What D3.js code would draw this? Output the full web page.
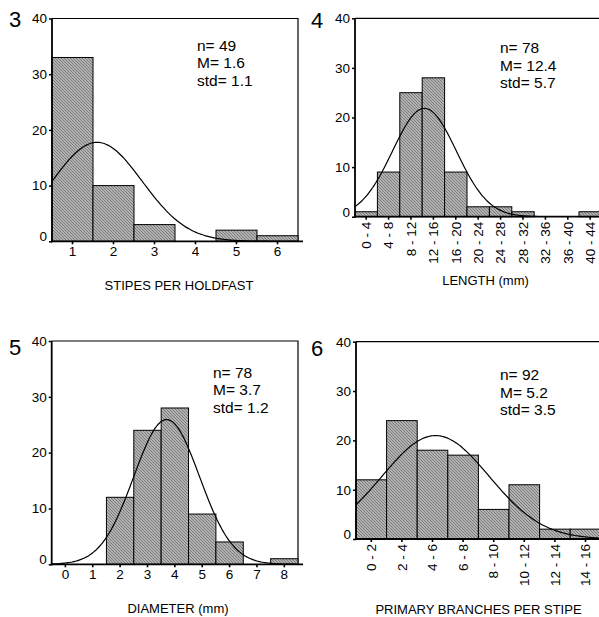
<!DOCTYPE html>
<html>
<head>
<meta charset="utf-8">
<script src="https://cdn.jsdelivr.net/npm/d3@7"></script>
<style>
body { margin: 0; background: #fff; }
svg text { font-family: "Liberation Sans", Arial, sans-serif; fill: #000; }
</style>
</head>
<body>
<svg id="fig" width="599" height="617"></svg>
<script>
/* four histograms with fitted normal curves
*/

var yTicks = [0, 10, 20, 30, 40]

var stipesCats = ['1', '2', '3', '4', '5', '6']
var stipesCounts = [33, 10, 3, 0, 2, 1]

var lengthCats = ['0 - 4', '4 - 8', '8 - 12', '12 - 16', '16 - 20', '20 - 24', '24 - 28', '28 - 32', '32 - 36', '36 - 40', '40 - 44']
var lengthCounts = [1, 9, 25, 28, 9, 2, 2, 1, 0, 0, 1]

var diamCats = ['0', '1', '2', '3', '4', '5', '6', '7', '8']
var diamCounts = [0, 0, 12, 24, 28, 9, 4, 0, 1]

var branchCats = ['0 - 2', '2 - 4', '4 - 6', '6 - 8', '8 - 10', '10 - 12', '12 - 14', '14 - 16']
var branchCounts = [12, 24, 18, 17, 6, 11, 2, 2]

var panelNums = ['3', '4', '5', '6']
var panelTitles = ['STIPES PER HOLDFAST', 'LENGTH (mm)', 'DIAMETER (mm)', 'PRIMARY BRANCHES PER STIPE']
var nVals = [49, 78, 78, 92]
var means = [1.6, 12.4, 3.7, 5.2]
var stds = [1.1, 5.7, 1.2, 3.5]
// where the first bin starts and how wide each bin is
var binStart = [0.5, 0, -0.5, 0]
var binWidth = [1, 4, 1, 2]

var svg = d3.select('#fig')

// hatched grey fill
var defs = svg.append('defs')
var pat = defs.append('pattern')
    .attr('id', 'hatch')
    .attr('patternUnits', 'userSpaceOnUse')
    .attr('width', 3).attr('height', 3)
pat.append('rect').attr('width', 3).attr('height', 3).attr('fill', '#b2b2b2')
pat.append('path')
    .attr('d', 'M-1,-1 L4,4 M2,-1 L4,1 M-1,2 L1,4')
    .attr('stroke', '#7c7c7c').attr('stroke-width', 1)

var layouts = [
    {x: 52, y: 18.5, w: 246, h: 222.8, rot: false, num: [9, 27], stat: [197, 50.5], title: [179, 290], closed: true},
    {x: 355, y: 18.3, w: 246.4, h: 198.4, rot: true, num: [311, 28], stat: [500, 53], title: [485.5, 285], closed: false},
    {x: 51.7, y: 341, w: 246.3, h: 223.3, rot: false, num: [9, 355], stat: [213, 377.5], title: [178, 613], closed: true},
    {x: 356, y: 341.7, w: 244.8, h: 197.3, rot: true, num: [311, 355.5], stat: [500, 380], title: [478.5, 614], closed: false}
]

var datasets = [
    {cats: stipesCats, counts: stipesCounts},
    {cats: lengthCats, counts: lengthCounts},
    {cats: diamCats, counts: diamCounts},
    {cats: branchCats, counts: branchCounts}
]

function normal_pdf(x, m, s) {
    var z = (x - m) / s
    return Math.exp(-0.5 * z * z) / (s * Math.sqrt(2 * Math.PI))
}

function draw_panel(i) {
    var L = layouts[i], D = datasets[i]
    var g = svg.append('g')
    var bottom = L.y + L.h

    var x = d3.scaleBand().domain(D.cats).range([L.x, L.x + L.w]).padding(0)
    var xv = d3.scaleLinear()
        .domain([binStart[i], binStart[i] + D.cats.length * binWidth[i]])
        .range([L.x, L.x + L.w])
    var y = d3.scaleLinear().domain([0, 40]).range([bottom, L.y])

    // box (top / right)
    g.append('path')
        .attr('d', L.closed
            ? 'M' + L.x + ',' + L.y + 'H' + (L.x + L.w) + 'V' + bottom
            : 'M' + L.x + ',' + L.y + 'H' + (L.x + L.w + 5))
        .attr('fill', 'none').attr('stroke', '#000').attr('stroke-width', 1.2)

    // bars
    g.selectAll('rect.bar')
        .data(D.counts)
        .enter()
        .append('rect')
        .classed('bar', true)
        .attr('x', function(d, j) { return x(D.cats[j]) })
        .attr('y', function(d) { return y(d) })
        .attr('width', x.bandwidth())
        .attr('height', function(d) { return bottom - y(d) })
        .attr('fill', 'url(#hatch)')
        .attr('stroke', function(d) { return d > 0 ? '#000' : 'none' })
        .attr('stroke-width', 1)

    // fitted normal curve from n, M, std
    var clipId = 'clip' + i
    defs.append('clipPath').attr('id', clipId)
        .append('rect').attr('x', L.x).attr('y', L.y).attr('width', L.w).attr('height', L.h)
    var pts = xv.ticks(150)
    var dom = xv.domain()
    pts = [dom[0]].concat(pts.filter(function(v) { return v > dom[0] && v < dom[1] })).concat([dom[1]])
    var line = d3.line()
        .x(function(v) { return xv(v) })
        .y(function(v) { return y(nVals[i] * binWidth[i] * normal_pdf(v, means[i], stds[i])) })
        .curve(d3.curveBasis)
    g.append('path')
        .datum(pts)
        .attr('d', line)
        .attr('clip-path', 'url(#' + clipId + ')')
        .attr('fill', 'none').attr('stroke', '#000').attr('stroke-width', 1.2)

    // y axis
    var ya = g.append('g')
        .attr('transform', 'translate(' + L.x + ',0)')
        .call(d3.axisLeft(y).tickValues(yTicks).tickSize(3).tickPadding(2))
    ya.select('.domain').attr('stroke-width', 1.8).attr('d', 'M0,' + (L.y) + 'V' + (bottom + 1))
    ya.selectAll('.tick line').attr('stroke-width', 1.5)
    ya.selectAll('.tick text')
        .style('font-size', '13.5px')
        .attr('dy', function(d) { return d == 0 ? '-0.05em' : '0.32em' })

    // x axis
    var xa = g.append('g')
        .attr('transform', 'translate(0,' + bottom + ')')
        .call(d3.axisBottom(x).tickSize(3).tickPadding(3))
    xa.select('.domain').attr('stroke-width', 1.8).attr('d', 'M' + (L.x - 1) + ',0H' + (L.x + L.w + 5))
    xa.selectAll('.tick line').attr('stroke-width', 1.6)
    var xt = xa.selectAll('.tick text').style('font-size', '13.5px')
    if (L.rot) {
        xt.attr('transform', 'rotate(-90)')
            .attr('text-anchor', 'end')
            .attr('x', -5).attr('y', 0).attr('dy', '0.35em')
    } else {
        xt.attr('y', 5).attr('dy', '0.71em')
    }

    // panel number
    g.append('text')
        .attr('x', L.num[0]).attr('y', L.num[1])
        .style('font-size', '22px')
        .text(panelNums[i])

    // stats block
    var st = ['n= ' + nVals[i], 'M= ' + means[i], 'std= ' + stds[i]]
    g.selectAll('text.stat')
        .data(st)
        .enter()
        .append('text')
        .classed('stat', true)
        .attr('x', L.stat[0])
        .attr('y', function(d, k) { return L.stat[1] + k * 17.6 })
        .style('font-size', '15.5px')
        .text(function(d) { return d })

    // axis title
    g.append('text')
        .attr('x', L.title[0]).attr('y', L.title[1])
        .attr('text-anchor', 'middle')
        .style('font-size', '13px')
        .text(panelTitles[i])
}

for (var i = 0; i < 4; i++) draw_panel(i)
</script>
</body>
</html>
